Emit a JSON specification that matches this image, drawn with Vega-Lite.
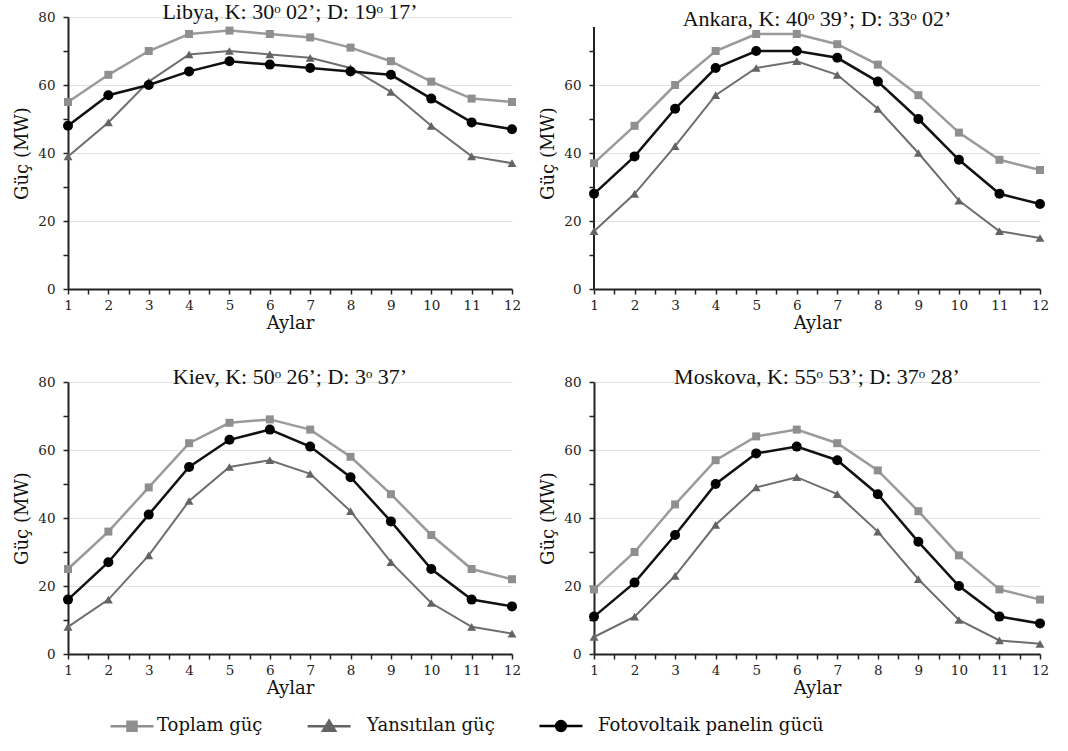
{
"$schema": "https://vega.github.io/schema/vega-lite/v6.json",
"background": "white",
"padding": {"left": 13, "top": 1, "right": 5, "bottom": 0},
"datasets": {"d": [
{"city":"Libya","series":"T","month":1,"value":55},{"city":"Libya","series":"T","month":2,"value":63},{"city":"Libya","series":"T","month":3,"value":70},{"city":"Libya","series":"T","month":4,"value":75},{"city":"Libya","series":"T","month":5,"value":76},{"city":"Libya","series":"T","month":6,"value":75},{"city":"Libya","series":"T","month":7,"value":74},{"city":"Libya","series":"T","month":8,"value":71},{"city":"Libya","series":"T","month":9,"value":67},{"city":"Libya","series":"T","month":10,"value":61},{"city":"Libya","series":"T","month":11,"value":56},{"city":"Libya","series":"T","month":12,"value":55},
{"city":"Libya","series":"Y","month":1,"value":39},{"city":"Libya","series":"Y","month":2,"value":49},{"city":"Libya","series":"Y","month":3,"value":61},{"city":"Libya","series":"Y","month":4,"value":69},{"city":"Libya","series":"Y","month":5,"value":70},{"city":"Libya","series":"Y","month":6,"value":69},{"city":"Libya","series":"Y","month":7,"value":68},{"city":"Libya","series":"Y","month":8,"value":65},{"city":"Libya","series":"Y","month":9,"value":58},{"city":"Libya","series":"Y","month":10,"value":48},{"city":"Libya","series":"Y","month":11,"value":39},{"city":"Libya","series":"Y","month":12,"value":37},
{"city":"Libya","series":"F","month":1,"value":48},{"city":"Libya","series":"F","month":2,"value":57},{"city":"Libya","series":"F","month":3,"value":60},{"city":"Libya","series":"F","month":4,"value":64},{"city":"Libya","series":"F","month":5,"value":67},{"city":"Libya","series":"F","month":6,"value":66},{"city":"Libya","series":"F","month":7,"value":65},{"city":"Libya","series":"F","month":8,"value":64},{"city":"Libya","series":"F","month":9,"value":63},{"city":"Libya","series":"F","month":10,"value":56},{"city":"Libya","series":"F","month":11,"value":49},{"city":"Libya","series":"F","month":12,"value":47},
{"city":"Ankara","series":"T","month":1,"value":37},{"city":"Ankara","series":"T","month":2,"value":48},{"city":"Ankara","series":"T","month":3,"value":60},{"city":"Ankara","series":"T","month":4,"value":70},{"city":"Ankara","series":"T","month":5,"value":75},{"city":"Ankara","series":"T","month":6,"value":75},{"city":"Ankara","series":"T","month":7,"value":72},{"city":"Ankara","series":"T","month":8,"value":66},{"city":"Ankara","series":"T","month":9,"value":57},{"city":"Ankara","series":"T","month":10,"value":46},{"city":"Ankara","series":"T","month":11,"value":38},{"city":"Ankara","series":"T","month":12,"value":35},
{"city":"Ankara","series":"Y","month":1,"value":17},{"city":"Ankara","series":"Y","month":2,"value":28},{"city":"Ankara","series":"Y","month":3,"value":42},{"city":"Ankara","series":"Y","month":4,"value":57},{"city":"Ankara","series":"Y","month":5,"value":65},{"city":"Ankara","series":"Y","month":6,"value":67},{"city":"Ankara","series":"Y","month":7,"value":63},{"city":"Ankara","series":"Y","month":8,"value":53},{"city":"Ankara","series":"Y","month":9,"value":40},{"city":"Ankara","series":"Y","month":10,"value":26},{"city":"Ankara","series":"Y","month":11,"value":17},{"city":"Ankara","series":"Y","month":12,"value":15},
{"city":"Ankara","series":"F","month":1,"value":28},{"city":"Ankara","series":"F","month":2,"value":39},{"city":"Ankara","series":"F","month":3,"value":53},{"city":"Ankara","series":"F","month":4,"value":65},{"city":"Ankara","series":"F","month":5,"value":70},{"city":"Ankara","series":"F","month":6,"value":70},{"city":"Ankara","series":"F","month":7,"value":68},{"city":"Ankara","series":"F","month":8,"value":61},{"city":"Ankara","series":"F","month":9,"value":50},{"city":"Ankara","series":"F","month":10,"value":38},{"city":"Ankara","series":"F","month":11,"value":28},{"city":"Ankara","series":"F","month":12,"value":25},
{"city":"Kiev","series":"T","month":1,"value":25},{"city":"Kiev","series":"T","month":2,"value":36},{"city":"Kiev","series":"T","month":3,"value":49},{"city":"Kiev","series":"T","month":4,"value":62},{"city":"Kiev","series":"T","month":5,"value":68},{"city":"Kiev","series":"T","month":6,"value":69},{"city":"Kiev","series":"T","month":7,"value":66},{"city":"Kiev","series":"T","month":8,"value":58},{"city":"Kiev","series":"T","month":9,"value":47},{"city":"Kiev","series":"T","month":10,"value":35},{"city":"Kiev","series":"T","month":11,"value":25},{"city":"Kiev","series":"T","month":12,"value":22},
{"city":"Kiev","series":"Y","month":1,"value":8},{"city":"Kiev","series":"Y","month":2,"value":16},{"city":"Kiev","series":"Y","month":3,"value":29},{"city":"Kiev","series":"Y","month":4,"value":45},{"city":"Kiev","series":"Y","month":5,"value":55},{"city":"Kiev","series":"Y","month":6,"value":57},{"city":"Kiev","series":"Y","month":7,"value":53},{"city":"Kiev","series":"Y","month":8,"value":42},{"city":"Kiev","series":"Y","month":9,"value":27},{"city":"Kiev","series":"Y","month":10,"value":15},{"city":"Kiev","series":"Y","month":11,"value":8},{"city":"Kiev","series":"Y","month":12,"value":6},
{"city":"Kiev","series":"F","month":1,"value":16},{"city":"Kiev","series":"F","month":2,"value":27},{"city":"Kiev","series":"F","month":3,"value":41},{"city":"Kiev","series":"F","month":4,"value":55},{"city":"Kiev","series":"F","month":5,"value":63},{"city":"Kiev","series":"F","month":6,"value":66},{"city":"Kiev","series":"F","month":7,"value":61},{"city":"Kiev","series":"F","month":8,"value":52},{"city":"Kiev","series":"F","month":9,"value":39},{"city":"Kiev","series":"F","month":10,"value":25},{"city":"Kiev","series":"F","month":11,"value":16},{"city":"Kiev","series":"F","month":12,"value":14},
{"city":"Moskova","series":"T","month":1,"value":19},{"city":"Moskova","series":"T","month":2,"value":30},{"city":"Moskova","series":"T","month":3,"value":44},{"city":"Moskova","series":"T","month":4,"value":57},{"city":"Moskova","series":"T","month":5,"value":64},{"city":"Moskova","series":"T","month":6,"value":66},{"city":"Moskova","series":"T","month":7,"value":62},{"city":"Moskova","series":"T","month":8,"value":54},{"city":"Moskova","series":"T","month":9,"value":42},{"city":"Moskova","series":"T","month":10,"value":29},{"city":"Moskova","series":"T","month":11,"value":19},{"city":"Moskova","series":"T","month":12,"value":16},
{"city":"Moskova","series":"Y","month":1,"value":5},{"city":"Moskova","series":"Y","month":2,"value":11},{"city":"Moskova","series":"Y","month":3,"value":23},{"city":"Moskova","series":"Y","month":4,"value":38},{"city":"Moskova","series":"Y","month":5,"value":49},{"city":"Moskova","series":"Y","month":6,"value":52},{"city":"Moskova","series":"Y","month":7,"value":47},{"city":"Moskova","series":"Y","month":8,"value":36},{"city":"Moskova","series":"Y","month":9,"value":22},{"city":"Moskova","series":"Y","month":10,"value":10},{"city":"Moskova","series":"Y","month":11,"value":4},{"city":"Moskova","series":"Y","month":12,"value":3},
{"city":"Moskova","series":"F","month":1,"value":11},{"city":"Moskova","series":"F","month":2,"value":21},{"city":"Moskova","series":"F","month":3,"value":35},{"city":"Moskova","series":"F","month":4,"value":50},{"city":"Moskova","series":"F","month":5,"value":59},{"city":"Moskova","series":"F","month":6,"value":61},{"city":"Moskova","series":"F","month":7,"value":57},{"city":"Moskova","series":"F","month":8,"value":47},{"city":"Moskova","series":"F","month":9,"value":33},{"city":"Moskova","series":"F","month":10,"value":20},{"city":"Moskova","series":"F","month":11,"value":11},{"city":"Moskova","series":"F","month":12,"value":9}
]},
"data": {"name": "d"},
"spacing": 33,
"vconcat": [
{"hconcat": [
{
"title": {"text": "Libya, K: 30ᵒ 02’; D: 19ᵒ 17’", "offset": -14},
"width": 444, "height": 272,
"transform": [{"filter": "datum.city === 'Libya'"}],
"encoding": {
"x": {"field":"month","type":"quantitative","scale":{"domain":[1,12],"nice":false,"zero":false},"axis":{"title":"Aylar","values":[1,1.5,2,2.5,3,3.5,4,4.5,5,5.5,6,6.5,7,7.5,8,8.5,9,9.5,10,10.5,11,11.5,12],"labelExpr":"datum.value % 1 === 0 ? '' + datum.value : ''","labelFlush":false,"labelOverlap":false,"grid":false,"labelPadding":4,"titlePadding":3}},
"y": {"field":"value","type":"quantitative","scale":{"domain":[0,80],"nice":false},"axis":{"title":"Güç (MW)","values":[0,10,20,30,40,50,60,70,80],"labelExpr":"datum.value % 20 === 0 ? '' + datum.value : ''","labelOverlap":false,"labelFlush":false,"grid":true,"gridColor":{"condition":{"test":"datum.value % 20 === 0 && datum.value > 0","value":"#e2e2e2"},"value":"transparent"},"labelPadding":8,"titlePadding":6}}
},
"layer": [
{"transform":[{"filter":"datum.series === 'T'"}],"mark":{"type":"line","color":"#9a9a9a","strokeWidth":2.5}},
{"transform":[{"filter":"datum.series === 'Y'"}],"mark":{"type":"line","color":"#6e6e6e","strokeWidth":2}},
{"transform":[{"filter":"datum.series === 'F'"}],"mark":{"type":"line","color":"#111111","strokeWidth":2.5}},
{"transform":[{"filter":"datum.series === 'T'"}],"mark":{"type":"point","shape":"square","filled":true,"color":"#8f8f8f","size":64,"opacity":1}},
{"transform":[{"filter":"datum.series === 'Y'"}],"mark":{"type":"point","shape":"triangle-up","filled":true,"color":"#646464","size":80,"opacity":1}},
{"transform":[{"filter":"datum.series === 'F'"}],"mark":{"type":"point","shape":"circle","filled":true,"color":"#000000","size":100,"opacity":1}},
{"mark":{"type":"point","filled":true,"opacity":0},
 "encoding":{
  "color":{"field":"series","type":"nominal","scale":{"domain":["T","Y","F"],"range":["#8f8f8f","#646464","#000000"]},
   "legend":{"title":null,"orient":"none","legendX":41,"legendY":686,"direction":"horizontal","symbolSize":1849,"symbolStrokeWidth":2.5,"symbolOpacity":1,"labelOffset":2,"columnPadding":39,"labelLimit":0,"labelFontSize":18,"labelFont":"DejaVu Serif","labelColor":"#111",
    "labelExpr":"datum.label === 'T' ? 'Toplam güç' : datum.label === 'Y' ? 'Yansıtılan güç\u00a0\u00a0\u00a0' : 'Fotovoltaik panelin gücü'",
    "encode":{"symbols":{"update":{"stroke":{"scale":"color","field":"value"},"fill":{"scale":"color","field":"value"},"opacity":{"value":1}}}}}},
  "shape":{"field":"series","type":"nominal","scale":{"domain":["T","Y","F"],"range":["M-1,0H1M-0.21,-0.21H0.21V0.21H-0.21Z","M-1.6,0H0.4M-0.6,-0.26L-0.32,0.2L-0.88,0.2Z","M-1.56,0H0.44M-0.79,0A0.23,0.23 0 1,0 -0.33,0A0.23,0.23 0 1,0 -0.79,0Z"]}}
 }}
]
},
{
"title": {"text": "Ankara, K: 40ᵒ 39’; D: 33ᵒ 02’", "offset": -14},
"width": 446, "height": 272,
"transform": [{"filter": "datum.city === 'Ankara'"}],
"encoding": {
"x": {"field":"month","type":"quantitative","scale":{"domain":[1,12],"nice":false,"zero":false},"axis":{"title":"Aylar","values":[1,1.5,2,2.5,3,3.5,4,4.5,5,5.5,6,6.5,7,7.5,8,8.5,9,9.5,10,10.5,11,11.5,12],"labelExpr":"datum.value % 1 === 0 ? '' + datum.value : ''","labelFlush":false,"labelOverlap":false,"grid":false,"labelPadding":4,"titlePadding":3}},
"y": {"field":"value","type":"quantitative","scale":{"domain":[0,80],"nice":false},"axis":{"title":"Güç (MW)","values":[0,10,20,30,40,50,60,70],"labelExpr":"datum.value % 20 === 0 ? '' + datum.value : ''","labelOverlap":false,"labelFlush":false,"grid":true,"domain":false,"gridColor":{"condition":{"test":"datum.value % 20 === 0 && datum.value > 0","value":"#e2e2e2"},"value":"transparent"},"labelPadding":8,"titlePadding":6}}
},
"layer": [
{"mark":{"type":"rule","color":"#222","strokeWidth":2},"encoding":{"x":{"datum":1},"y":{"datum":0},"y2":{"datum":77}}},
{"transform":[{"filter":"datum.series === 'T'"}],"mark":{"type":"line","color":"#9a9a9a","strokeWidth":2.5}},
{"transform":[{"filter":"datum.series === 'Y'"}],"mark":{"type":"line","color":"#6e6e6e","strokeWidth":2}},
{"transform":[{"filter":"datum.series === 'F'"}],"mark":{"type":"line","color":"#111111","strokeWidth":2.5}},
{"transform":[{"filter":"datum.series === 'T'"}],"mark":{"type":"point","shape":"square","filled":true,"color":"#8f8f8f","size":64,"opacity":1}},
{"transform":[{"filter":"datum.series === 'Y'"}],"mark":{"type":"point","shape":"triangle-up","filled":true,"color":"#646464","size":80,"opacity":1}},
{"transform":[{"filter":"datum.series === 'F'"}],"mark":{"type":"point","shape":"circle","filled":true,"color":"#000000","size":100,"opacity":1}}
]
}
], "spacing": 18},
{"hconcat": [
{
"title": {"text": "Kiev, K: 50ᵒ 26’; D: 3ᵒ 37’", "offset": -14},
"width": 444, "height": 272,
"transform": [{"filter": "datum.city === 'Kiev'"}],
"encoding": {
"x": {"field":"month","type":"quantitative","scale":{"domain":[1,12],"nice":false,"zero":false},"axis":{"title":"Aylar","values":[1,1.5,2,2.5,3,3.5,4,4.5,5,5.5,6,6.5,7,7.5,8,8.5,9,9.5,10,10.5,11,11.5,12],"labelExpr":"datum.value % 1 === 0 ? '' + datum.value : ''","labelFlush":false,"labelOverlap":false,"grid":false,"labelPadding":4,"titlePadding":3}},
"y": {"field":"value","type":"quantitative","scale":{"domain":[0,80],"nice":false},"axis":{"title":"Güç (MW)","values":[0,10,20,30,40,50,60,70,80],"labelExpr":"datum.value % 20 === 0 ? '' + datum.value : ''","labelOverlap":false,"labelFlush":false,"grid":true,"gridColor":{"condition":{"test":"datum.value % 20 === 0 && datum.value > 0","value":"#e2e2e2"},"value":"transparent"},"labelPadding":8,"titlePadding":6}}
},
"layer": [
{"transform":[{"filter":"datum.series === 'T'"}],"mark":{"type":"line","color":"#9a9a9a","strokeWidth":2.5}},
{"transform":[{"filter":"datum.series === 'Y'"}],"mark":{"type":"line","color":"#6e6e6e","strokeWidth":2}},
{"transform":[{"filter":"datum.series === 'F'"}],"mark":{"type":"line","color":"#111111","strokeWidth":2.5}},
{"transform":[{"filter":"datum.series === 'T'"}],"mark":{"type":"point","shape":"square","filled":true,"color":"#8f8f8f","size":64,"opacity":1}},
{"transform":[{"filter":"datum.series === 'Y'"}],"mark":{"type":"point","shape":"triangle-up","filled":true,"color":"#646464","size":80,"opacity":1}},
{"transform":[{"filter":"datum.series === 'F'"}],"mark":{"type":"point","shape":"circle","filled":true,"color":"#000000","size":100,"opacity":1}}
]
},
{
"title": {"text": "Moskova, K: 55ᵒ 53’; D: 37ᵒ 28’", "offset": -14},
"width": 446, "height": 272,
"transform": [{"filter": "datum.city === 'Moskova'"}],
"encoding": {
"x": {"field":"month","type":"quantitative","scale":{"domain":[1,12],"nice":false,"zero":false},"axis":{"title":"Aylar","values":[1,1.5,2,2.5,3,3.5,4,4.5,5,5.5,6,6.5,7,7.5,8,8.5,9,9.5,10,10.5,11,11.5,12],"labelExpr":"datum.value % 1 === 0 ? '' + datum.value : ''","labelFlush":false,"labelOverlap":false,"grid":false,"labelPadding":4,"titlePadding":3}},
"y": {"field":"value","type":"quantitative","scale":{"domain":[0,80],"nice":false},"axis":{"title":"Güç (MW)","values":[0,10,20,30,40,50,60,70,80],"labelExpr":"datum.value % 20 === 0 ? '' + datum.value : ''","labelOverlap":false,"labelFlush":false,"grid":true,"gridColor":{"condition":{"test":"datum.value % 20 === 0 && datum.value > 0","value":"#e2e2e2"},"value":"transparent"},"labelPadding":8,"titlePadding":6}}
},
"layer": [
{"transform":[{"filter":"datum.series === 'T'"}],"mark":{"type":"line","color":"#9a9a9a","strokeWidth":2.5}},
{"transform":[{"filter":"datum.series === 'Y'"}],"mark":{"type":"line","color":"#6e6e6e","strokeWidth":2}},
{"transform":[{"filter":"datum.series === 'F'"}],"mark":{"type":"line","color":"#111111","strokeWidth":2.5}},
{"transform":[{"filter":"datum.series === 'T'"}],"mark":{"type":"point","shape":"square","filled":true,"color":"#8f8f8f","size":64,"opacity":1}},
{"transform":[{"filter":"datum.series === 'Y'"}],"mark":{"type":"point","shape":"triangle-up","filled":true,"color":"#646464","size":80,"opacity":1}},
{"transform":[{"filter":"datum.series === 'F'"}],"mark":{"type":"point","shape":"circle","filled":true,"color":"#000000","size":100,"opacity":1}}
]
}
], "spacing": 18}
],
"config": {
"view": {"stroke": null},
"style": {"guide-label": {"font": "DejaVu Serif"}, "guide-title": {"font": "DejaVu Serif"}},
"axis": {"labelFont":"DejaVu Serif","labelFontSize":13.5,"labelColor":"#222","titleFont":"DejaVu Serif","titleFontSize":18,"titleFontWeight":"normal","titleColor":"#111","domainColor":"#222","domainWidth":2,"tickColor":"#222","tickWidth":1.5,"tickSize":5,"gridWidth":1},
"title": {"font":"Liberation Serif","fontSize":22,"fontWeight":"normal","color":"#111","anchor":"middle"},
"legend": {"labelFont":"DejaVu Serif","labelFontSize":18,"labelColor":"#111"}
}
}
